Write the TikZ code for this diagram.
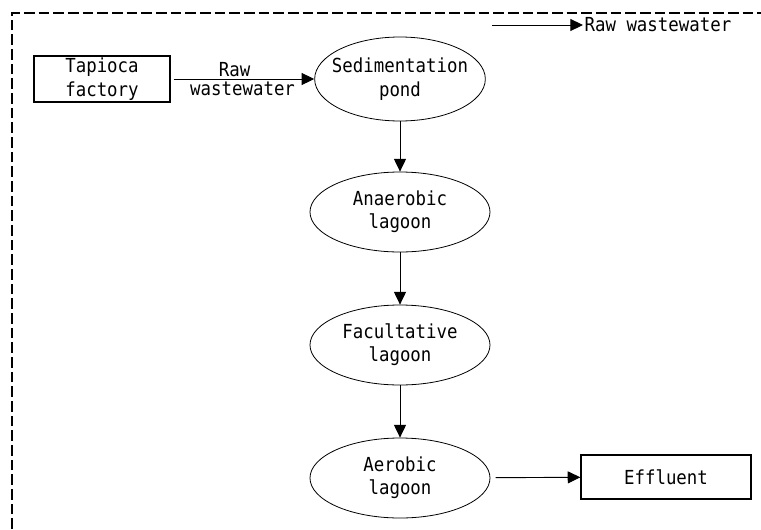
\documentclass[tikz,border=0pt]{standalone}
\usepackage{fontspec}
\setmainfont{DejaVu Sans Mono}[FakeStretch=0.9]
\usetikzlibrary{arrows.meta,shapes.geometric}
\tikzset{
  plant/.style={draw, line width=1.4pt, minimum width=102pt, minimum height=34pt, align=center, inner sep=0pt},
  pond/.style={draw, ellipse, line width=0.6pt, minimum width=135pt, minimum height=60pt, align=center, inner sep=-20pt},
  flow/.style={-{Triangle[length=9.5pt,width=9pt]}, line width=0.7pt},
}
\begin{document}
\begin{tikzpicture}[x=0.75pt, y=-0.75pt, every node/.style={font=\fontsize{14.5}{17.5}\selectfont}]
  \useasboundingbox (0,0) rectangle (761,529);
  % dashed frame, runs off the right and bottom edges
  \draw[line width=1.3pt, dash pattern=on 8pt off 3pt] (12,529) -- (12,13) -- (761,13);
  % legend
  \coordinate (legstart) at (492,25);
  \node[anchor=west, inner sep=1pt] (legtext) at (583,25) {Raw wastewater};
  \draw[flow] (legstart) -- (legtext.west);
  % treatment line
  \node[plant] (factory) at (102,79) {Tapioca\\factory};
  \node[pond, minimum width=128pt, minimum height=63pt] (sedpond) at (400,79) {Sedimentation\\pond};
  \node[pond] (anaerobic) at (400,212) {Anaerobic\\lagoon};
  \node[pond] (facultative) at (400,345) {Facultative\\lagoon};
  \node[pond] (aerobic) at (400,478) {Aerobic\\lagoon};
  \node[plant, minimum width=127pt, minimum height=33pt] (effluent) at (666,477) {Effluent};
  \draw[flow, shorten <=2pt] (factory) -- (sedpond)
    node[midway, above, inner sep=1.5pt, xshift=-6pt] {Raw}
    node[midway, below, inner sep=2pt] {wastewater};
  \draw[flow] (sedpond.south) -- (anaerobic.north);
  \draw[flow] (anaerobic.south) -- (facultative.north);
  \draw[flow] (facultative.south) -- (aerobic.north);
  \draw[flow, shorten <=4pt] (aerobic) -- (effluent);
\end{tikzpicture}
\end{document}
